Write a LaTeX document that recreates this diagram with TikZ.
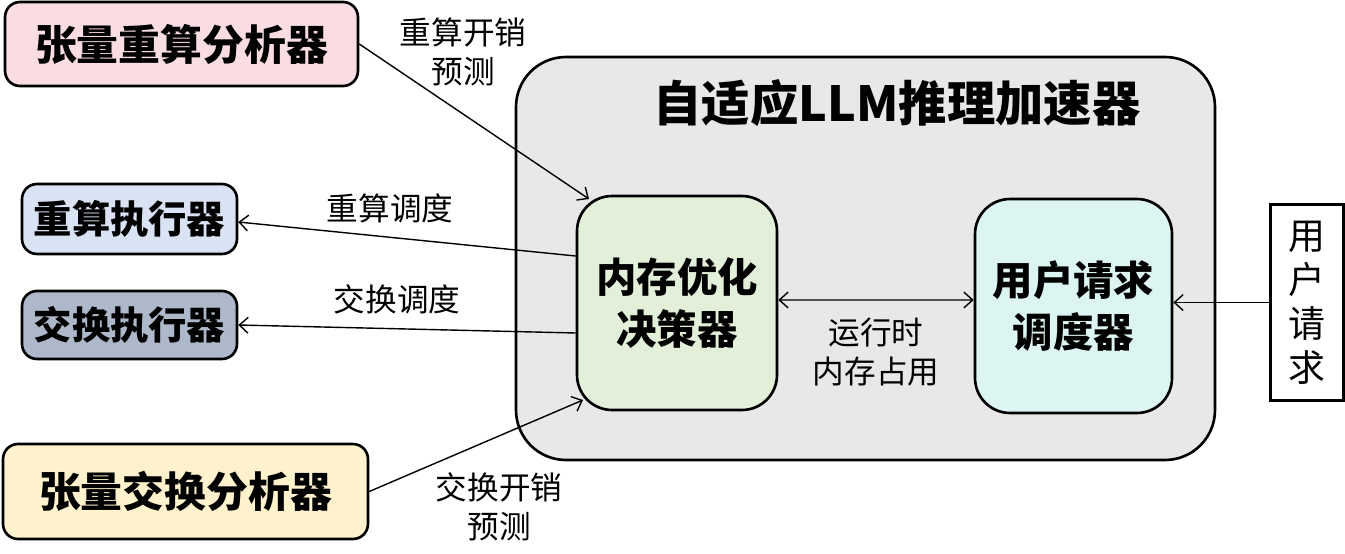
\documentclass[tikz,border=0pt]{standalone}
\usepackage{fontspec}
\setmainfont{Noto Sans CJK SC}
\usetikzlibrary{arrows.meta}
\definecolor{rosepink}{RGB}{250, 221, 226}
\definecolor{paleblue}{RGB}{218, 227, 243}
\definecolor{slateblue}{RGB}{173, 185, 202}
\definecolor{cream}{RGB}{255, 242, 204}
\definecolor{silver}{RGB}{232, 232, 232}
\definecolor{palegreen}{RGB}{226, 240, 217}
\definecolor{palecyan}{RGB}{220, 245, 243}

\tikzset{
  box/.style={draw=black, line width=1.5pt, rounded corners=0.3cm, inner sep=0pt, font=\bfseries},
  bigbox/.style={box, rounded corners=0.7cm, minimum width=4cm, minimum height=4.28cm, align=center,
                 font=\fontsize{23}{30}\selectfont\bfseries},
  arr/.style={-{Straight Barb[length=5pt, width=9pt]}, line width=0.8pt},
  lbl/.style={align=center, font=\fontsize{18}{22}\selectfont}
}

\begin{document}
\begin{tikzpicture}[x=0.02cm, y=-0.02cm]
            \useasboundingbox (0,0) rectangle (1345,554);
            % Container
            \draw[fill=silver, line width=1.5pt, rounded corners=1cm] (516,57) rectangle (1215,460);
            \node[font=\fontsize{27.5}{32}\selectfont\bfseries] (title) at (897,103) {自适应LLM推理加速器};
            % Left side boxes
            \node[box, fill=rosepink, minimum width=7.06cm, minimum height=1.68cm,
                  font=\fontsize{23.8}{28}\selectfont\bfseries] (anarecomp) at (181.5,44) {张量重算分析器};
            \node[box, fill=paleblue, minimum width=4.3cm, minimum height=1.4cm,
                  font=\fontsize{21.8}{26}\selectfont\bfseries] (execrecomp) at (129.5,219) {重算执行器};
            \node[box, fill=slateblue, minimum width=4.3cm, minimum height=1.36cm,
                  font=\fontsize{21.8}{26}\selectfont\bfseries] (execswap) at (129.5,325) {交换执行器};
            \node[box, fill=cream, minimum width=7.3cm, minimum height=1.9cm,
                  font=\fontsize{23.8}{28}\selectfont\bfseries] (anaswap) at (185.5,491.5) {张量交换分析器};
            % Inner boxes
            \node[bigbox, fill=palegreen] (decider) at (677,303) {内存优化\\决策器};
            \node[bigbox, fill=palecyan, minimum width=3.94cm] (sched) at (1073.5,306) {用户请求\\调度器};
            % User request
            \node[draw=black, line width=1.2pt, minimum width=1.46cm, minimum height=3.92cm, inner sep=0pt,
                  align=center, font=\fontsize{21}{25}\selectfont] (userreq) at (1307,302.5) {用\\户\\请\\求};
            % Connectors
            \coordinate (dectl) at (589,199);
            \coordinate (decbl) at (583,400);
            \draw[arr] (anarecomp.east) -- (dectl);
            \draw[arr] ([yshift=0.94cm]decider.west) -- ([yshift=-0.06cm]execrecomp.east);
            \draw[arr] ([yshift=-0.6cm]decider.west) -- (execswap.east);
            \draw[arr] (anaswap.east) -- (decbl);
            \draw[arr, {Straight Barb[length=5pt, width=9pt]}-{Straight Barb[length=5pt, width=9pt]}]
                 ([yshift=0.06cm]decider.east) -- ([yshift=0.12cm]sched.west);
            \draw[arr] (userreq.west) -- (userreq.west -| sched.east);
            % Labels
            \node[lbl] (lblrecomp) at (463,52) {重算开销\\预测};
            \node[lbl] (lblrsched) at (390,208) {重算调度};
            \node[lbl] (lblssched) at (397,299) {交换调度};
            \node[lbl] (lblswap) at (499,507) {交换开销\\预测};
            \node[lbl] (lblmem) at (876,352) {运行时\\内存占用};
        \end{tikzpicture}
\end{document}
